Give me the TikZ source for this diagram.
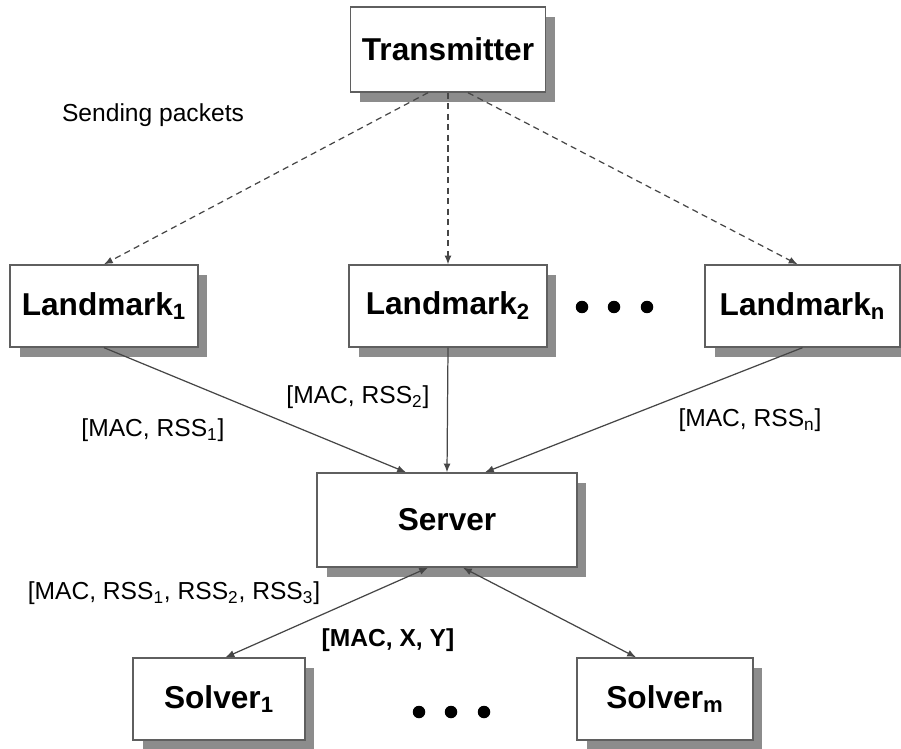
\documentclass[tikz,border=0pt]{standalone}
\usepackage{fontspec}
\setmainfont{Liberation Sans}
\usetikzlibrary{arrows.meta,shadows}

\definecolor{boxline}{RGB}{95,95,95}
\definecolor{shadowgray}{RGB}{140,140,140}
\definecolor{linkgray}{RGB}{70,70,70}

\begin{document}
\begin{tikzpicture}[
    x=0.02cm, y=-0.02cm,
    >={Latex[length=5pt,width=4pt]},
    box/.style={rectangle, draw=boxline, line width=0.8pt, fill=white, minimum height=1.64cm, align=center,
        font=\fontsize{18pt}{21pt}\selectfont\bfseries,
        general shadow={fill=shadowgray, shadow xshift=0.19cm, shadow yshift=-0.2cm}},
    lab/.style={inner sep=0pt, font=\fontsize{14pt}{16pt}\selectfont},
    link/.style={draw=linkgray, line width=0.7pt},
    dot/.style={circle, fill=black, inner sep=0pt, minimum size=0.25cm}
]
\useasboundingbox (0,0) rectangle (901,749);

% Transmitter
\node[box, minimum width=3.9cm, minimum height=1.7cm] (tx) at (448,49.5) {Transmitter};
\node[lab] (send) at (153,115) {Sending packets};

% Landmarks
\node[box, minimum width=3.76cm] (lm1) at (104,306) {Landmark\textsubscript{1}};
\node[box, minimum width=3.96cm] (lm2) at (448,306) {Landmark\textsubscript{2}};
\node[box, minimum width=3.9cm] (lmn) at (802.5,306) {Landmark\textsubscript{n}};
\node[dot] (d1) at (582,307) {};
\node[dot] (d2) at (614,307) {};
\node[dot] (d3) at (647,307) {};

% Server
\node[box, minimum width=5.2cm, minimum height=1.88cm] (srv) at (447,520) {Server};

% Solvers
\node[box, minimum width=3.44cm] (sv1) at (219,699) {Solver\textsubscript{1}};
\node[box, minimum width=3.52cm] (svm) at (665,699) {Solver\textsubscript{m}};
\node[dot] (d4) at (419,712) {};
\node[dot] (d5) at (451,712) {};
\node[dot] (d6) at (484,712) {};

% Packets to the landmarks
\draw[link, ->, dash pattern=on 3.5pt off 2.5pt] ([xshift=-0.4cm]tx.south) -- (lm1.north);
\draw[link, ->, dash pattern=on 3.5pt off 2.5pt] (tx.south) -- (lm2.north);
\draw[link, ->, dash pattern=on 3.5pt off 2.5pt] ([xshift=0.4cm]tx.south) -- ([xshift=-0.1cm]lmn.north);

% Reports to the server
\draw[link, ->] (lm1.south) -- ([xshift=-0.82cm]srv.north);
\draw[link, ->] (lm2.south) -- (srv.north);
\draw[link, ->] (lmn.south) -- ([xshift=0.76cm]srv.north);
\node[lab] (r1) at (153,430) {[MAC, RSS\textsubscript{1}]};
\node[lab] (r2) at (358,397) {[MAC, RSS\textsubscript{2}]};
\node[lab] (rn) at (750,420) {[MAC, RSS\textsubscript{n}]};

% Server <-> solvers
\draw[link, <->] ([xshift=-0.38cm]srv.south) -- ([xshift=0.13cm]sv1.north);
\draw[link, <->] ([xshift=0.32cm]srv.south) -- ([xshift=-0.58cm]svm.north);
\node[lab] (rall) at (174,593) {[MAC, RSS\textsubscript{1}, RSS\textsubscript{2}, RSS\textsubscript{3}]};
\node[lab, font=\fontsize{14pt}{16pt}\selectfont\bfseries] (xy) at (388,640) {[MAC, X, Y]};

\end{tikzpicture}
\end{document}
